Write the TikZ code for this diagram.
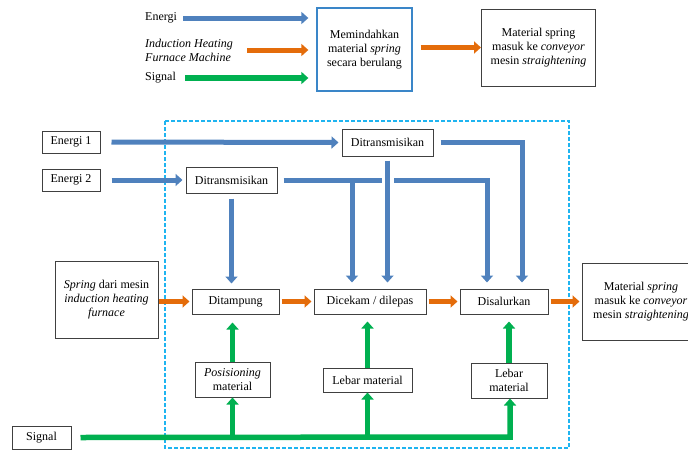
\documentclass[tikz,border=0pt]{standalone}
\usepackage{fontspec}
\setmainfont{Liberation Serif}
\usetikzlibrary{arrows.meta}
\definecolor{eblue}{HTML}{4F81BD}
\definecolor{eorange}{HTML}{E46C0A}
\definecolor{egreen}{HTML}{00B050}
\definecolor{dcyan}{HTML}{1FB4F0}
\definecolor{mblue}{HTML}{3A86C8}
\begin{document}
\begin{tikzpicture}[x=1pt,y=-1pt,
  font=\fontsize{12}{14}\selectfont,
  box/.style={draw=black!75, line width=1pt, inner sep=0pt, align=center},
  lbl/.style={inner sep=0pt, align=left, anchor=west},
  ea/.style={draw=eblue, line width=5pt, -{Triangle[width=12pt,length=7pt]}},
  el/.style={draw=eblue, line width=5pt},
  oa/.style={draw=eorange, line width=5pt, -{Triangle[width=12pt,length=7pt]}},
  ga/.style={draw=egreen, line width=5.5pt, -{Triangle[width=12pt,length=7pt]}},
  gl/.style={draw=egreen, line width=5.5pt},
  dashbox/.style={draw=dcyan, line width=1.5pt, dash pattern=on 4pt off 2pt}
]
\useasboundingbox (0,0) rectangle (688,450);

% ---------- legend ----------
\node[lbl] (lenergi) at (145,18) {Energi};
\node[lbl] (lihf) at (145,50) {\textit{Induction Heating}\\\textit{Furnace Machine}};
\node[lbl] (lsig) at (145,78) {Signal};
\node[box, draw=mblue, line width=1.3pt, minimum width=95pt, minimum height=83pt] (mem) at (364.5,49.5)
  {Memindahkan\\material \textit{spring}\\secara berulang};
\node[box, minimum width=114pt, minimum height=77pt] (mtop) at (538.5,47.5)
  {Material spring\\masuk ke \textit{conveyor}\\mesin \textit{straightening}};

\draw[ea] ([xshift=6pt]lenergi.east) -- ([xshift=-8pt]mem.west |- lenergi.east);
\draw[oa] ([xshift=14pt]lihf.east) -- ([xshift=-8pt]mem.west |- lihf.east);
\draw[ga] ([xshift=9pt]lsig.east) -- ([xshift=-8pt]mem.west |- lsig.east);
\draw[oa] ([xshift=8pt]mem.east |- mtop.west) -- (mtop.west);

% ---------- main ----------
\draw[dashbox] (165,121) rectangle (569,448);

\node[box, minimum width=58pt, minimum height=22pt] (e1) at (71,142) {Energi 1};
\node[box, minimum width=58pt, minimum height=22pt] (e2) at (71,180) {Energi 2};
\node[box, minimum width=91pt, minimum height=27pt] (dt1) at (387.5,142.5) {Ditransmisikan};
\node[box, minimum width=91pt, minimum height=26pt] (dt2) at (231.5,180) {Ditransmisikan};

\node[box, minimum width=103pt, minimum height=77pt] (spr) at (106.5,299.5)
  {\textit{Spring} dari mesin\\\textit{induction heating}\\\textit{furnace}};
\node[box, minimum width=87pt, minimum height=25pt] (tamp) at (235.5,301.5) {Ditampung};
\node[box, minimum width=112pt, minimum height=25pt] (cek) at (370,301.5) {Dicekam / dilepas};
\node[box, minimum width=88pt, minimum height=25pt] (sal) at (504,301.5) {Disalurkan};
\node[box, minimum width=118pt, minimum height=77pt] (out) at (641,301.5)
  {Material \textit{spring}\\masuk ke \textit{conveyor}\\mesin \textit{straightening}};

\node[box, minimum width=59pt, minimum height=23pt] (sig) at (41.5,437.5) {Signal};
\node[box, minimum width=75pt, minimum height=35pt] (pos) at (232.5,379.5) {\textit{Posisioning}\\material};
\node[box, minimum width=89pt, minimum height=24pt] (leb1) at (367.5,380) {Lebar material};
\node[box, minimum width=76pt, minimum height=35pt] (leb2) at (509,380.5) {Lebar\\material};

% energy
\draw[ea] ([xshift=11pt]e1.east) -- ([xshift=-3pt]dt1.west);
\draw[ea] ([xshift=11pt]e2.east) -- ([xshift=-3pt]dt2.west);
\draw[ea] ([yshift=-5pt]dt2.south) -- ([yshift=5pt]dt2.south |- tamp.north);

\coordinate (j1) at (352,180);
\coordinate (g1) at (382,180);
\coordinate (g2) at (394,180);
\coordinate (c2) at (487,180);
\coordinate (c1) at (522,142.5);
\draw[el] ([xshift=6pt]dt2.east) -- (g1);
\draw[ea] (j1) -- ([yshift=6pt]j1 |- cek.north);
\draw[ea] (g2) -- (c2) -- ([yshift=6pt]c2 |- sal.north);
\draw[ea] ([yshift=-4pt]dt1.south) -- ([yshift=6pt]dt1.south |- cek.north);
\draw[ea] ([xshift=7pt]dt1.east) -- (c1) -- ([yshift=6pt]c1 |- sal.north);

% material flow
\draw[oa] (spr.east |- tamp.west) -- ([xshift=-2pt]tamp.west);
\draw[oa] ([xshift=2pt]tamp.east) -- ([xshift=-2pt]cek.west);
\draw[oa] ([xshift=2pt]cek.east) -- ([xshift=-2pt]sal.west);
\draw[oa] ([xshift=2pt]sal.east) -- ([xshift=-2pt]out.west);

% signal
\coordinate (gc) at (510,437);
\draw[ga] ([xshift=9pt]sig.east) -- (gc) -- (gc |- leb2.south);
\draw[ga] (pos.south |- gc) -- (pos.south);
\draw[ga] (leb1.south |- gc) -- (leb1.south);
\draw[ga] (pos.north) -- ([yshift=-8pt]pos.north |- tamp.south);
\draw[ga] (leb1.north) -- ([yshift=-7pt]leb1.north |- cek.south);
\draw[ga] (leb2.north) -- ([yshift=-7pt]leb2.north |- sal.south);
\end{tikzpicture}
\end{document}
